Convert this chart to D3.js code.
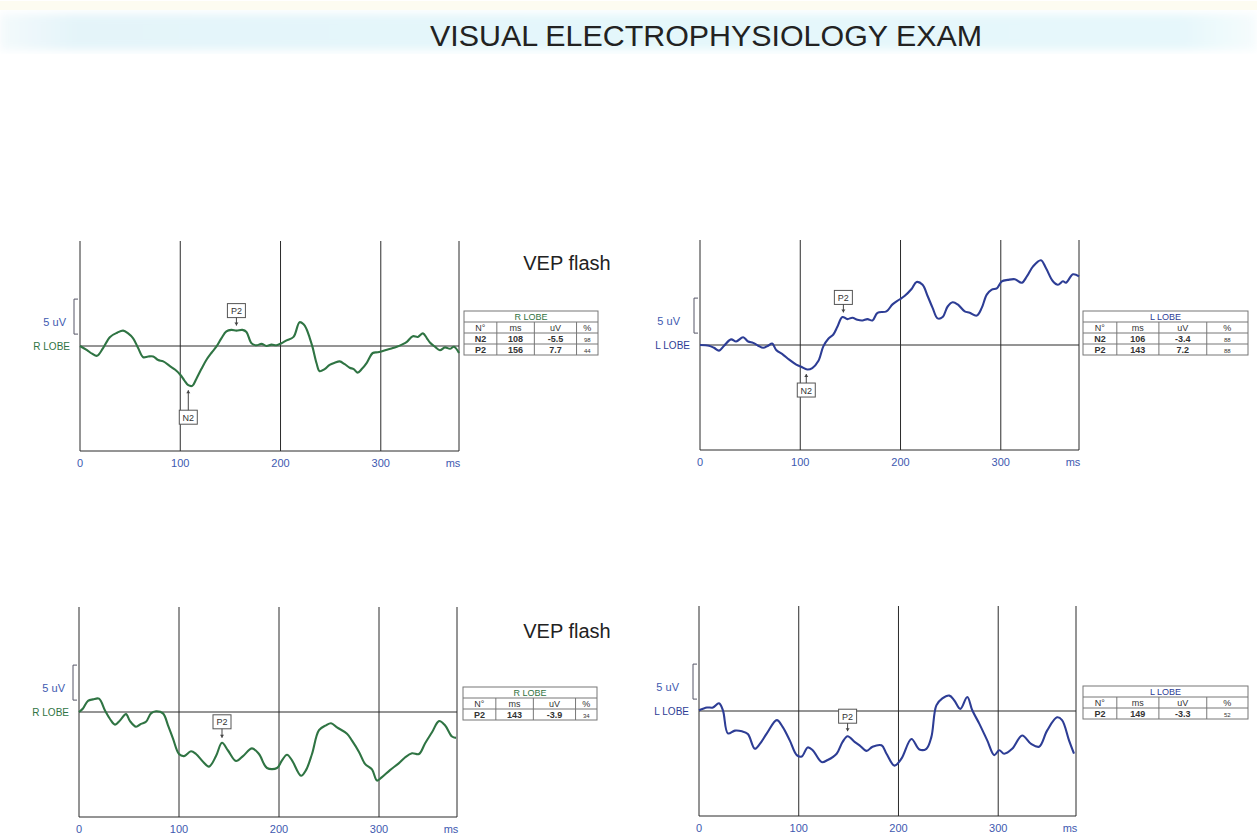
<!DOCTYPE html>
<html lang="en">
<head>
<meta charset="utf-8">
<title>Visual Electrophysiology Exam</title>
<script src="https://d3js.org/d3.v7.min.js"></script>
<style>
  body { margin: 0; background: #fff; }
  svg { display: block; font-family: "Liberation Sans", Arial, sans-serif; }
</style>
</head>
<body>
<div id="chart"></div>
<script>
// ---- data ----
var msTicks = [0, 100, 200, 300];

// top row, right lobe (green)
var tlMs = [0, 7, 12, 17, 23, 30, 37, 43, 48, 53, 58, 63, 68, 73, 78, 83, 90, 95, 100, 104, 108, 112, 116, 121, 126, 131, 136, 141, 146, 151, 156, 162, 166, 171, 176, 181, 186, 191, 196, 201, 206, 213, 219, 223, 226, 229, 232, 236, 239, 244, 249, 254, 259, 264, 269, 273, 277, 281, 286, 292, 297, 302, 307, 312, 316, 321, 326, 332, 337, 342, 346, 349, 354, 359, 364, 369, 373, 378];
var tlUv = [0, -0.6, -1.1, -1.4, -0.3, 1.3, 1.9, 2.2, 1.8, 1.1, -0.3, -1.6, -1.5, -1.5, -2.0, -2.2, -2.9, -3.4, -4.1, -4.9, -5.6, -5.7, -4.7, -3.3, -2.0, -1.0, -0.1, 1.1, 2.1, 2.3, 2.2, 2.3, 2.0, 0.4, 0.1, 0.3, 0.0, 0.2, 0.1, 0.4, 0.8, 1.3, 3.4, 3.1, 2.4, 1.2, -0.2, -2.5, -3.6, -3.3, -2.7, -2.4, -2.2, -2.6, -3.1, -3.3, -3.8, -3.3, -2.4, -1.0, -0.9, -0.7, -0.5, -0.3, -0.1, 0.2, 0.6, 1.4, 1.3, 1.8, 1.1, 0.5, -0.1, -0.6, -0.2, -0.4, -0.1, -1.0];
var tlTable = [["N2", "108", "-5.5", "98"], ["P2", "156", "7.7", "44"]];

// top row, left lobe (blue)
var trMs = [0, 9, 14, 19, 24, 31, 36, 43, 48, 53, 58, 63, 68, 72, 76, 83, 89, 96, 101, 107, 112, 118, 123, 128, 133, 137, 142, 147, 152, 157, 162, 167, 172, 177, 186, 192, 199, 204, 211, 216, 222, 227, 232, 237, 242, 247, 252, 257, 264, 269, 276, 281, 286, 291, 296, 301, 307, 314, 321, 326, 332, 340, 345, 352, 357, 362, 365, 372, 378];
var trUv = [0, -0.1, -0.4, -0.8, -0.1, 0.8, 0.5, 1.1, 0.5, 0.3, -0.1, -0.4, -0.1, 0.2, -0.7, -1.4, -2.1, -2.8, -3.1, -3.5, -3.3, -2.3, -0.2, 0.9, 1.5, 2.6, 4.0, 3.7, 3.9, 3.6, 3.5, 3.7, 3.5, 4.6, 4.8, 5.8, 6.5, 7.0, 8.0, 9.0, 8.6, 7.0, 5.3, 3.8, 4.0, 5.5, 6.1, 5.8, 4.8, 4.6, 4.2, 5.3, 7.2, 7.9, 8.1, 9.1, 9.3, 9.4, 8.9, 9.8, 11.2, 12.1, 11.0, 9.1, 8.6, 9.1, 8.9, 10.1, 9.8];
var trTable = [["N2", "106", "-3.4", "88"], ["P2", "143", "7.2", "88"]];

// bottom row, right lobe (green)
var blMs = [0, 4, 9, 14, 20, 26, 31, 36, 41, 47, 51, 57, 62, 67, 72, 77, 84, 89, 94, 100, 105, 112, 117, 124, 130, 137, 143, 149, 157, 164, 173, 180, 188, 198, 203, 208, 213, 222, 227, 233, 240, 247, 252, 258, 268, 273, 280, 286, 293, 298, 303, 311, 320, 326, 333, 340, 346, 353, 360, 366, 373, 377];
var blUv = [0, 0.5, 1.6, 1.8, 1.9, 0.2, -1.0, -1.8, -1.2, -0.3, -1.3, -2.1, -1.7, -1.4, -0.2, 0.1, -0.2, -1.9, -3.8, -6.0, -6.3, -5.6, -6.0, -7.1, -7.8, -6.3, -4.4, -5.5, -7.0, -6.3, -5.2, -6.0, -8.0, -8.0, -6.9, -6.1, -6.9, -9.1, -8.3, -6.0, -2.6, -1.9, -1.6, -2.2, -3.1, -4.1, -5.7, -7.4, -8.2, -9.8, -9.3, -8.3, -7.3, -6.5, -5.9, -6.0, -4.5, -2.9, -1.3, -1.9, -3.5, -3.7];
var blTable = [["P2", "143", "-3.9", "34"]];

// bottom row, left lobe (blue)
var brMs = [0, 8, 14, 20, 24, 29, 36, 43, 49, 56, 61, 68, 78, 84, 91, 98, 103, 109, 114, 123, 129, 138, 144, 149, 156, 161, 168, 174, 183, 188, 196, 203, 213, 221, 228, 233, 238, 244, 251, 256, 262, 269, 274, 281, 289, 296, 301, 306, 314, 324, 333, 341, 349, 359, 364, 371, 376];
var brUv = [0.1, 0.5, 0.5, 1.1, 0.1, -3.2, -2.8, -2.9, -3.3, -5.4, -4.7, -3.2, -1.3, -2.3, -4.2, -6.3, -6.5, -5.2, -5.6, -7.3, -7.0, -6.1, -4.4, -3.6, -4.4, -4.9, -5.7, -5.1, -4.9, -6.1, -7.8, -6.8, -4.0, -5.5, -5.4, -3.7, 0.8, 1.8, 2.2, 1.5, 0.3, 2.0, 0.1, -1.8, -4.2, -6.3, -5.6, -6.1, -5.4, -3.5, -4.7, -5.1, -2.8, -0.9, -1.3, -4.2, -6.1];
var brTable = [["P2", "149", "-3.3", "52"]];

var tableHead = ["N°", "ms", "uV", "%"];

var green = "#2f7443", blue = "#2d3d95", labelBlue = "#3e59b0";

var panels = [
  {ms: tlMs, uv: tlUv, rows: tlTable, lobe: "R LOBE", color: green, x0: 80, x1: 459, top: 241, bottom: 451,
   tab: {x: 464, y: 311, w: 134, cols: [0.245, 0.525, 0.84]}, gapP: 13, gapN: 25, uvGap: 14},
  {ms: trMs, uv: trUv, rows: trTable, lobe: "L LOBE", color: blue, x0: 700, x1: 1079, top: 240, bottom: 450,
   tab: {x: 1083, y: 311, w: 165, cols: [0.205, 0.46, 0.75]}, gapP: 13, gapN: 14, uvGap: 20},
  {ms: blMs, uv: blUv, rows: blTable, lobe: "R LOBE", color: green, x0: 79, x1: 457, top: 607, bottom: 817,
   tab: {x: 463, y: 687, w: 134, cols: [0.245, 0.525, 0.84]}, gapP: 14, uvGap: 14},
  {ms: brMs, uv: brUv, rows: brTable, lobe: "L LOBE", color: blue, x0: 699, x1: 1076, top: 606, bottom: 816,
   tab: {x: 1083, y: 686, w: 165, cols: [0.205, 0.46, 0.75]}, gapP: 13, uvGap: 20}
];

var W = 1257, H = 838;
var svg = d3.select("#chart").append("svg").attr("width", W).attr("height", H);

// title band
var defs = svg.append("defs");
var grad = defs.append("linearGradient").attr("id", "band");
grad.append("stop").attr("offset", "0%").attr("stop-color", "#f4fafc");
grad.append("stop").attr("offset", "6%").attr("stop-color", "#e4f4f9");
grad.append("stop").attr("offset", "50%").attr("stop-color", "#e4f7fb");
grad.append("stop").attr("offset", "94%").attr("stop-color", "#e6f7fb");
grad.append("stop").attr("offset", "100%").attr("stop-color", "#f6fcfd");
defs.append("filter").attr("id", "soft").append("feGaussianBlur").attr("stdDeviation", 4);
svg.append("rect").attr("x", 0).attr("y", 1).attr("width", W).attr("height", 9).attr("fill", "#fdfcf1");
svg.append("rect").attr("x", 0).attr("y", 14).attr("width", W).attr("height", 36)
  .attr("fill", "url(#band)").attr("filter", "url(#soft)");
svg.append("text").attr("x", 706).attr("y", 46).attr("text-anchor", "middle")
  .attr("font-size", 29).attr("fill", "#222")
  .attr("textLength", 552).attr("lengthAdjust", "spacingAndGlyphs")
  .text("VISUAL ELECTROPHYSIOLOGY EXAM");

svg.append("text").attr("x", 567).attr("y", 270).attr("text-anchor", "middle")
  .attr("font-size", 20).attr("fill", "#222").text("VEP flash");
svg.append("text").attr("x", 567).attr("y", 638).attr("text-anchor", "middle")
  .attr("font-size", 20).attr("fill", "#222").text("VEP flash");

panels.forEach(function(p){
  var x = d3.scaleLinear().domain([0, 378]).range([p.x0, p.x1]);
  var y = d3.scaleLinear().domain([-15, 15]).range([p.bottom, p.top]);
  var g = svg.append("g");
  var base = y(0);

  // grid: vertical lines at the ms ticks and the right edge
  g.selectAll("line.v").data(msTicks.concat([378])).enter().append("line")
    .attr("x1", function(d){ return x(d); }).attr("x2", function(d){ return x(d); })
    .attr("y1", p.top).attr("y2", p.bottom)
    .attr("stroke", "#2b2b2b").attr("stroke-width", 1);
  g.append("line").attr("x1", p.x0).attr("x2", p.x1).attr("y1", p.bottom).attr("y2", p.bottom)
    .attr("stroke", "#2b2b2b");
  g.append("line").attr("x1", p.x0).attr("x2", p.x1).attr("y1", base).attr("y2", base)
    .attr("stroke", "#2b2b2b");

  // tick labels
  g.selectAll("text.t").data(msTicks).enter().append("text")
    .attr("x", function(d){ return x(d); }).attr("y", p.bottom + 16)
    .attr("text-anchor", "middle").attr("font-size", 11).attr("fill", labelBlue)
    .text(function(d){ return d; });
  g.append("text").attr("x", x(372)).attr("y", p.bottom + 16).attr("text-anchor", "middle")
    .attr("font-size", 11).attr("fill", labelBlue).text("ms");

  // 5 uV calibration bracket
  var b1 = y(1.7), b2 = y(6.7), bx = p.x0 - 6;
  g.append("path").attr("d", "M" + (bx + 4) + "," + b2 + "H" + bx + "V" + b1 + "H" + (bx + 4))
    .attr("fill", "none").attr("stroke", "#556").attr("stroke-width", 1);
  g.append("text").attr("x", p.x0 - p.uvGap).attr("y", base - 20).attr("text-anchor", "end")
    .attr("font-size", 11).attr("fill", labelBlue).text("5 uV");
  g.append("text").attr("x", p.x0 - 10).attr("y", base + 4).attr("text-anchor", "end")
    .attr("font-size", 10).attr("fill", p.color).text(p.lobe);

  // trace
  var pts = p.ms.map(function(m, i){ return [m, p.uv[i]]; });
  var line = d3.line().x(function(d){ return x(d[0]); }).y(function(d){ return y(d[1]); })
    .curve(d3.curveCatmullRom.alpha(0.5));
  g.append("path").datum(pts).attr("d", line)
    .attr("fill", "none").attr("stroke", p.color).attr("stroke-width", 2.1)
    .attr("stroke-linejoin", "round");

  // peak markers
  p.rows.forEach(function(r){
    var m = +r[1];
    var v = d3.scaleLinear().domain(p.ms).range(p.uv)(m);
    var px = x(m), py = y(v);
    var below = r[0] === "N2";
    var by = below ? py + p.gapN : py - p.gapP - 14;
    g.append("rect").attr("x", px - 9).attr("y", by).attr("width", 18).attr("height", 14)
      .attr("fill", "#fff").attr("stroke", "#555").attr("stroke-width", 1);
    g.append("text").attr("x", px).attr("y", by + 10.5).attr("text-anchor", "middle")
      .attr("font-size", 9).attr("fill", "#333").text(r[0]);
    var tip = below ? py + 5 : py - 5;
    var from = below ? by : by + 14;
    g.append("line").attr("x1", px).attr("x2", px).attr("y1", from).attr("y2", tip)
      .attr("stroke", "#444").attr("stroke-width", 1);
    var d = below ? -1 : 1;
    g.append("path").attr("d", "M" + (px - 2) + "," + (tip - 3 * d) + "L" + px + "," + tip + "L" + (px + 2) + "," + (tip - 3 * d) + "Z")
      .attr("fill", "#444");
  });

  // result table
  var t = p.tab, rh = 11;
  var nRows = 2 + p.rows.length;
  var tg = g.append("g");
  tg.append("rect").attr("x", t.x).attr("y", t.y).attr("width", t.w).attr("height", rh * nRows)
    .attr("fill", "#fff").attr("stroke", "#777");
  for (var i = 1; i < nRows; i++) {
    tg.append("line").attr("x1", t.x).attr("x2", t.x + t.w).attr("y1", t.y + rh * i).attr("y2", t.y + rh * i)
      .attr("stroke", "#777");
  }
  var edges = [0].concat(t.cols).concat([1]).map(function(f){ return t.x + f * t.w; });
  t.cols.forEach(function(f){
    tg.append("line").attr("x1", t.x + f * t.w).attr("x2", t.x + f * t.w)
      .attr("y1", t.y + rh).attr("y2", t.y + rh * nRows).attr("stroke", "#777");
  });
  tg.append("text").attr("x", t.x + t.w / 2).attr("y", t.y + 8.5).attr("text-anchor", "middle")
    .attr("font-size", 9).attr("fill", p.color).text(p.lobe);
  var body = [tableHead].concat(p.rows);
  body.forEach(function(row, ri){
    row.forEach(function(cell, ci){
      var cx = (edges[ci] + edges[ci + 1]) / 2;
      tg.append("text").attr("x", cx).attr("y", t.y + rh * (ri + 1) + 8.5)
        .attr("text-anchor", "middle")
        .attr("font-size", ri > 0 && ci === 3 ? 6 : 9)
        .attr("font-weight", ri > 0 && ci < 3 ? "bold" : "normal")
        .attr("fill", "#333").text(cell);
    });
  });
});
</script>
</body>
</html>
